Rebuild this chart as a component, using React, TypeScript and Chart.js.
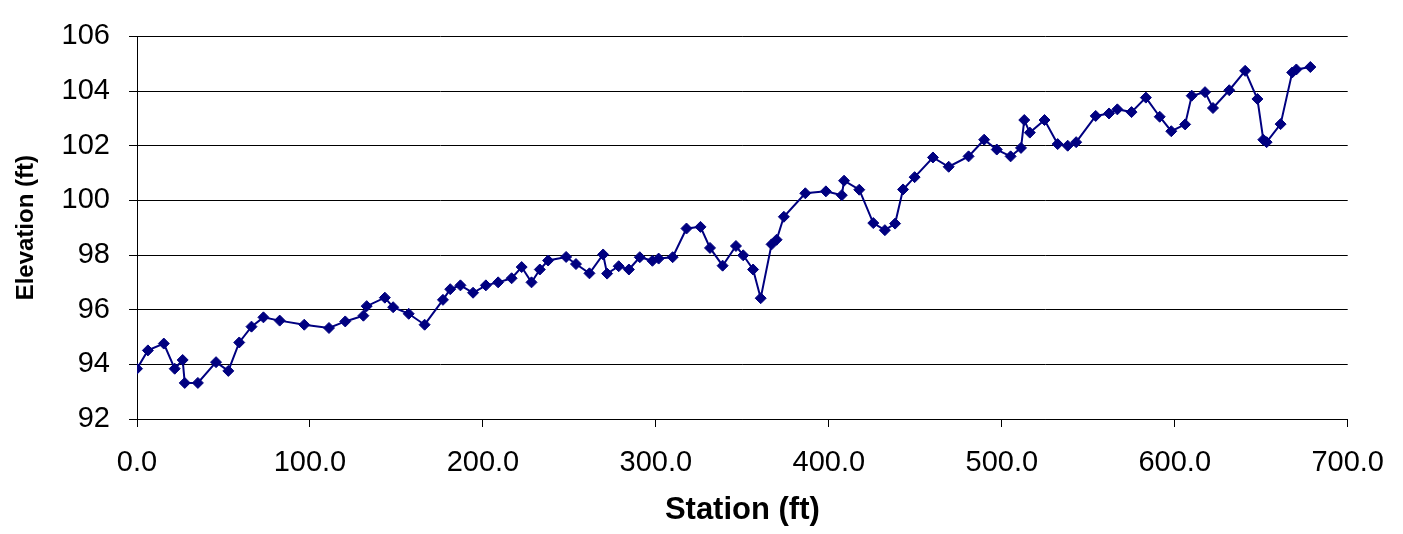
import React, { useEffect, useRef } from "react";
import { Chart, registerables } from "chart.js";

Chart.register(...registerables);

// Survey profile: station along the reach (ft) and ground elevation (ft)
const stations: number[] = [
  0, 6.3, 15.5, 21.8, 26.4, 27.6, 35.2, 45.7, 52.8, 59.1,
  66.2, 73.1, 82.5, 96.7, 111.0, 120.4, 130.9, 132.8, 143.3, 148.1,
  157.1, 166.3, 176.9, 181.1, 187.0, 194.3, 201.7, 208.8, 216.6, 222.4,
  228.1, 232.9, 237.7, 248.1, 253.8, 261.6, 269.5, 271.8, 278.5, 284.4,
  290.7, 298.0, 301.6, 309.7, 317.7, 325.8, 331.3, 338.6, 346.3, 350.5,
  356.2, 360.6, 366.9, 369.8, 374.0, 386.4, 398.3, 407.5, 408.8, 417.6,
  425.7, 432.4, 438.3, 442.9, 449.6, 460.2, 469.3, 480.8, 489.8, 497.1,
  505.1, 511.1, 513.0, 516.2, 524.7, 532.3, 538.1, 543.0, 554.3, 562.0,
  566.8, 575.0, 583.3, 591.3, 598.0, 606.0, 609.8, 617.5, 622.1, 631.5,
  640.7, 647.8, 651.2, 653.1, 661.2, 667.9, 670.3, 678.4,
];

const elevations: number[] = [
  93.84, 94.51, 94.76, 93.84, 94.16, 93.32, 93.32, 94.08, 93.76, 94.8,
  95.38, 95.72, 95.6, 95.45, 95.33, 95.57, 95.78, 96.13, 96.44, 96.09,
  95.85, 95.45, 96.36, 96.75, 96.89, 96.62, 96.89, 97.0, 97.15, 97.56,
  97.0, 97.47, 97.8, 97.93, 97.67, 97.33, 98.02, 97.32, 97.59, 97.47,
  97.92, 97.79, 97.87, 97.92, 98.97, 99.03, 98.26, 97.61, 98.33, 97.99,
  97.47, 96.42, 98.39, 98.56, 99.4, 100.26, 100.33, 100.19, 100.72, 100.39,
  99.17, 98.91, 99.15, 100.4, 100.85, 101.57, 101.23, 101.61, 102.22, 101.86,
  101.61, 101.92, 102.94, 102.48, 102.94, 102.06, 102.0, 102.13, 103.09, 103.18,
  103.33, 103.23, 103.76, 103.06, 102.53, 102.78, 103.83, 103.96, 103.38, 104.03,
  104.74, 103.71, 102.22, 102.13, 102.79, 104.68, 104.79, 104.88,
];

// Axis ranges and labels
const xMin = 0;
const xMax = 700;
const xStep = 100;
const yMin = 92;
const yMax = 106;
const yStep = 2;
const xTitle = "Station (ft)";
const yTitle = "Elevation (ft)";

const FONT = "'Liberation Sans', Arial, Helvetica, sans-serif";

export default function App() {
  const canvasRef = useRef<HTMLCanvasElement | null>(null);

  useEffect(() => {
    const canvas = canvasRef.current;
    if (!canvas) return;

    const points = stations.map((s, i) => ({ x: s, y: elevations[i] }));

    const chart = new Chart(canvas, {
      type: "scatter",
      data: {
        datasets: [
          {
            data: points,
            showLine: true,
            borderColor: "#000080",
            backgroundColor: "#000080",
            borderWidth: 2,
            pointStyle: "rectRot",
            pointRadius: 5.5,
            pointBorderWidth: 1,
            pointBorderColor: "#000080",
            pointBackgroundColor: "#000080",
            tension: 0,
          },
        ],
      },
      options: {
        animation: false,
        responsive: false,
        maintainAspectRatio: false,
        layout: {
          autoPadding: false,
          padding: { top: 19, right: 46.5, bottom: 0, left: 0 },
        },
        plugins: {
          legend: { display: false },
          tooltip: { enabled: false },
        },
        scales: {
          x: {
            type: "linear",
            min: xMin,
            max: xMax,
            afterFit: (scale: any) => {
              scale.height = 115;
            },
            ticks: {
              stepSize: xStep,
              padding: 19,
              color: "#000",
              font: { family: FONT, size: 29 },
              callback: (v: any) => Number(v).toFixed(1),
              maxRotation: 0,
            },
            grid: {
              drawOnChartArea: false,
              drawTicks: true,
              tickLength: 8,
              color: "#000",
            },
            border: { display: true, color: "#000", width: 1 },
            title: {
              display: true,
              text: xTitle,
              color: "#000",
              font: { family: FONT, size: 31, weight: "bold" },
              padding: { top: 0, bottom: 5 },
            },
          },
          y: {
            type: "linear",
            min: yMin,
            max: yMax,
            afterFit: (scale: any) => {
              scale.width = 137;
            },
            ticks: {
              stepSize: yStep,
              padding: 19,
              color: "#000",
              font: { family: FONT, size: 29 },
            },
            grid: {
              drawOnChartArea: true,
              drawTicks: true,
              tickLength: 8,
              color: "#000",
              lineWidth: 1,
            },
            border: { display: true, color: "#000", width: 1 },
            title: {
              display: true,
              text: yTitle,
              color: "#000",
              font: { family: FONT, size: 24, weight: "bold" },
              padding: { top: 12, bottom: 0 },
            },
          },
        },
      },
    });

    return () => {
      chart.destroy();
    };
  }, []);

  return (
    <div
      style={{
        position: "absolute",
        left: 0,
        top: 0,
        width: 1403,
        height: 534,
        background: "#fff",
      }}
    >
      <canvas ref={canvasRef} width={1403} height={534} style={{ display: "block" }} />
    </div>
  );
}
